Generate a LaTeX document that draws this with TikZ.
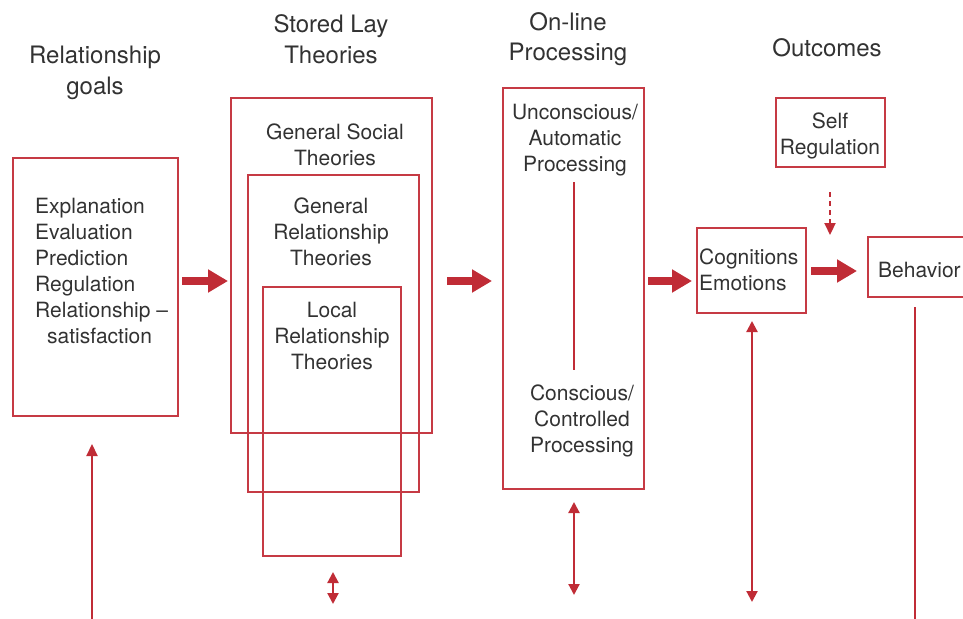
\documentclass[tikz,border=0pt]{standalone}
\usepackage{fontspec}
\setmainfont{TeX Gyre Heros}
\usetikzlibrary{arrows.meta}
\definecolor{dred}{RGB}{192,44,54}
\definecolor{bred}{RGB}{198,58,68}
\definecolor{txt}{RGB}{50,50,50}
\tikzset{
  box/.style={draw=bred, line width=1.7pt, inner sep=0pt, outer sep=0pt, anchor=north west},
  body/.style={text=txt, font=\fontsize{21}{26}\selectfont, inner sep=0pt, align=center},
  head/.style={text=txt, font=\fontsize{24}{30.5}\selectfont, inner sep=0pt, align=center},
  bigarrow/.style={draw=dred, line width=8pt, -{Triangle[length=20pt,width=22pt]}},
  thinarrow/.style={draw=dred, line width=2.2pt, -{Triangle[length=12pt,width=11pt]}},
  dblarrow/.style={draw=dred, line width=2.2pt, {Triangle[length=11pt,width=11pt]}-{Triangle[length=11pt,width=11pt]}},
  plain/.style={draw=dred, line width=2.2pt},
}
\begin{document}
\begin{tikzpicture}[x=1pt,y=-1pt]
\useasboundingbox (0,0) rectangle (963,618);
\clip (0,0) rectangle (963,618);
% headers
\node[head] (h1) at (95,73) {Relationship\\goals};
\node[head] (h2) at (331,39) {Stored Lay\\Theories};
\node[head] (h3) at (568,39) {On-line\\Processing};
\node[head] (h4) at (827,48) {Outcomes};
% goals box
\node[box, minimum width=165pt, minimum height=258pt] (goals) at (13,158) {};
\node[body, align=left, anchor=north west] (goalstxt) at (35,198) {Explanation\\Evaluation\\Prediction\\Regulation\\Relationship –\\\hspace*{12pt}satisfaction};
% stored lay theories
\node[box, minimum width=201pt, minimum height=335pt] (gs) at (231,98) {};
\node[body] (gstxt) at (335,145) {General Social\\Theories};
\node[box, minimum width=171pt, minimum height=317pt] (gr) at (248,175) {};
\node[body] (grtxt) at (331,232) {General\\Relationship\\Theories};
\node[box, minimum width=138pt, minimum height=269pt] (lr) at (263,287) {};
\node[body] (lrtxt) at (332,336) {Local\\Relationship\\Theories};
% online processing
\node[box, minimum width=141pt, minimum height=401pt] (op) at (503,88) {};
\node[body] (unc) at (575,140) {Unconscious/\\Automatic\\Processing};
\node[body] (con) at (582,421) {Conscious/\\Controlled\\Processing};
\coordinate (ltop) at (574,182);
\coordinate (lbot) at (574,370);
\draw[plain] (ltop) -- (lbot);
% outcomes
\node[box, minimum width=109pt, minimum height=69pt] (self) at (776,98) {};
\node[body] (selftxt) at (830,136) {Self\\Regulation};
\node[box, minimum width=109pt, minimum height=85pt] (cog) at (697,228) {};
\node[body, align=left, anchor=west] (cogtxt) at (699,270) {Cognitions\\Emotions};
\node[box, minimum width=110pt, minimum height=60pt] (beh) at (868,237) {};
\node[body, anchor=west] (behtxt) at (878,270) {Behavior};
% big arrows
\coordinate (a1s) at (182,281); \coordinate (a1e) at (228,281);
\coordinate (a2s) at (447,281); \coordinate (a2e) at (492,281);
\coordinate (a3s) at (648,281); \coordinate (a3e) at (692,281);
\coordinate (a4s) at (811,271); \coordinate (a4e) at (857,271);
\draw[bigarrow] (a1s) -- (a1e);
\draw[bigarrow] (a2s) -- (a2e);
\draw[bigarrow] (a3s) -- (a3e);
\draw[bigarrow] (a4s) -- (a4e);
% dotted arrow
\coordinate (ds) at (830,192); \coordinate (de) at (830,235);
\draw[thinarrow, dash pattern=on 5pt off 4pt] (ds) -- (de);
% bottom arrows
\coordinate (u1s) at (92,620); \coordinate (u1e) at (92,444);
\draw[thinarrow] (u1s) -- (u1e);
\coordinate (d1a) at (333,572); \coordinate (d1b) at (333,604);
\draw[dblarrow] (d1a) -- (d1b);
\coordinate (d2a) at (574,502); \coordinate (d2b) at (574,595);
\draw[dblarrow] (d2a) -- (d2b);
\coordinate (d3a) at (752,321); \coordinate (d3b) at (752,602);
\draw[dblarrow] (d3a) -- (d3b);
\coordinate (v1) at (915,307); \coordinate (v2) at (915,620);
\draw[plain] (v1) -- (v2);
\end{tikzpicture}
\end{document}
